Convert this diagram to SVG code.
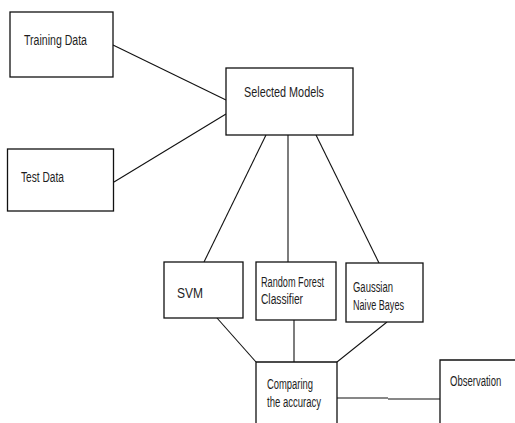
<svg xmlns="http://www.w3.org/2000/svg" width="515" height="423" viewBox="0 0 515 423">
<style>
.box{fill:#fff;stroke:#111;stroke-width:1.3}
.lbl{font-family:"Liberation Sans",Arial,sans-serif;font-size:14px;fill:#1e1e1e}
.conn line{stroke:#111;stroke-width:1.1}
</style>
<rect width="515" height="423" fill="#fff"/>
<g class="conn" id="connectors">
<line x1="113" y1="45" x2="226" y2="100"/>
<line x1="114" y1="182" x2="226" y2="114"/>
<line x1="266" y1="135" x2="204" y2="262"/>
<line x1="288" y1="135" x2="288" y2="262"/>
<line x1="316" y1="135" x2="379" y2="263"/>
<line x1="217" y1="318" x2="256" y2="362"/>
<line x1="294" y1="320" x2="294" y2="362"/>
<line x1="387" y1="322" x2="337" y2="362"/>
<line x1="337" y1="398" x2="388" y2="398"/>
<line x1="388" y1="399" x2="440" y2="399"/>
</g>
<g id="training">
<rect class="box" x="10" y="12" width="103" height="65"/>
<text class="lbl" x="24" y="45" textLength="63" lengthAdjust="spacingAndGlyphs">Training Data</text>
</g>
<g id="test">
<rect class="box" x="7.5" y="149" width="106" height="62"/>
<text class="lbl" x="21" y="182" textLength="43" lengthAdjust="spacingAndGlyphs">Test Data</text>
</g>
<g id="selected">
<rect class="box" x="226" y="68" width="127" height="67"/>
<text class="lbl" x="244" y="97" textLength="80" lengthAdjust="spacingAndGlyphs">Selected Models</text>
</g>
<g id="svm">
<rect class="box" x="164" y="262" width="79" height="56"/>
<text class="lbl" x="177" y="298" textLength="26" lengthAdjust="spacingAndGlyphs">SVM</text>
</g>
<g id="rf">
<rect class="box" x="256" y="262" width="80" height="58"/>
<text class="lbl" x="261" y="287" textLength="63" lengthAdjust="spacingAndGlyphs">Random Forest</text>
<text class="lbl" x="261" y="304" textLength="42" lengthAdjust="spacingAndGlyphs">Classifier</text>
</g>
<g id="gnb">
<rect class="box" x="346" y="263" width="77" height="59"/>
<text class="lbl" x="353" y="292" textLength="40" lengthAdjust="spacingAndGlyphs">Gaussian</text>
<text class="lbl" x="353" y="310" textLength="51" lengthAdjust="spacingAndGlyphs">Naive Bayes</text>
</g>
<g id="compare">
<path class="box" d="M256,423 V362 H337 V423"/>
<text class="lbl" x="267" y="389" textLength="46" lengthAdjust="spacingAndGlyphs">Comparing</text>
<text class="lbl" x="267" y="407" textLength="54" lengthAdjust="spacingAndGlyphs">the accuracy</text>
</g>
<g id="observation">
<path class="box" d="M440,423 V360 H515"/>
<text class="lbl" transform="translate(450,386) scale(0.68,1)" x="0" y="0">Observation</text>
</g>
</svg>
